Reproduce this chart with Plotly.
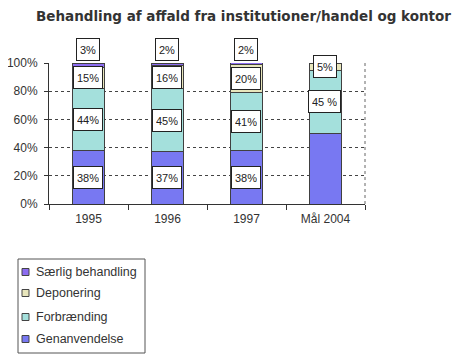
import plotly.graph_objects as go

categories = ["1995", "1996", "1997", "Mål 2004"]
genanvendelse = [38, 37, 38, 50]
forbraending = [44, 45, 41, 45]
deponering = [15, 16, 20, 5]
saerlig = [3, 2, 2, 0]

gen_labels = ["38%", "37%", "38%", ""]
forb_labels = ["44%", "45%", "41%", "45 %"]
dep_labels = ["15%", "16%", "20%", "5%"]
saer_labels = ["3%", "2%", "2%", ""]

series_names = ["Genanvendelse", "Forbrænding", "Deponering", "Særlig behandling"]
colors = {
    "Genanvendelse": "#7878f2",
    "Forbrænding": "#a4e0dc",
    "Deponering": "#e8e6bc",
    "Særlig behandling": "#8c6cf0",
}

FONT = "Arial"

# plot area in figure pixels (page has 8px body offset)
L, R, T, B = 41, 357, 55, 196
W, H = R - L, B - T

fig = go.Figure()
for name, vals in zip(series_names, [genanvendelse, forbraending, deponering, saerlig]):
    fig.add_trace(go.Bar(x=categories, y=vals, name=name,
                         marker=dict(color=colors[name], line=dict(color="#404040", width=1))))

ann = []
def add_labels(bottoms, vals, labels, yshift=0, at_top=False):
    for i, (b, v, t) in enumerate(zip(bottoms, vals, labels)):
        if not t:
            continue
        y = 100 if at_top else b + v / 2
        ann.append(dict(x=i, xref="x", y=y, yref="y", text=t, showarrow=False, yshift=yshift,
                        xshift=-1, height=15,
                        bgcolor="white", bordercolor="#222", borderwidth=1, borderpad=3,
                        font=dict(size=11, color="#222", family=FONT)))

b0 = [0] * 4
b1 = genanvendelse
b2 = [a + b for a, b in zip(genanvendelse, forbraending)]
b3 = [a + b for a, b in zip(b2, deponering)]
add_labels(b0, genanvendelse, gen_labels)
add_labels(b1, forbraending, forb_labels)
add_labels(b2, deponering, dep_labels)
add_labels(b3, saerlig, saer_labels, yshift=14, at_top=True)

# manual legend (positions in figure pixels -> paper coords)
def px(x):
    return (x - L) / W
def py(y):
    return (B - y) / H

shapes = [dict(type="line", xref="paper", yref="paper", x0=1, x1=1, y0=0, y1=1,
               line=dict(color="#666", width=1, dash="dot"))]
shapes.append(dict(type="rect", xref="paper", yref="paper",
                   x0=px(10), x1=px(137), y0=py(251), y1=py(345),
                   line=dict(color="#555", width=1), fillcolor="white", layer="below"))
legend_y = [264, 285, 309, 331]
for name, yy in zip(reversed(series_names), legend_y):
    shapes.append(dict(type="rect", xref="paper", yref="paper",
                       x0=px(14), x1=px(21), y0=py(yy + 3.5), y1=py(yy - 3.5),
                       line=dict(color="#444", width=1), fillcolor=colors[name]))
    ann.append(dict(x=px(26), y=py(yy), xref="paper", yref="paper", text=name,
                    showarrow=False, xanchor="left", yanchor="middle",
                    font=dict(size=12.5, color="#333", family=FONT)))

fig.update_layout(
    width=460, height=362,
    margin=dict(l=L, r=460 - R, t=T, b=362 - B),
    barmode="stack", bargap=0.595,
    paper_bgcolor="white", plot_bgcolor="white",
    font=dict(family=FONT, size=12, color="#333"),
    title=dict(text="<b>Behandling af affald fra institutioner/handel og kontor</b>",
               x=0.512, xanchor="center", y=0.99, yanchor="top",
               font=dict(size=13.5, color="#333", family="DejaVu Sans")),
    showlegend=False,
    annotations=ann,
    shapes=shapes,
    xaxis=dict(type="category", categoryorder="array", categoryarray=categories,
               showline=True, linecolor="#333", linewidth=1, automargin=False,
               ticks="outside", tickson="boundaries", ticklen=5, tickcolor="#333",
               showgrid=False, tickfont=dict(size=12, family=FONT), tickangle=0,
               ticklabelstandoff=4),
    yaxis=dict(range=[0, 100], dtick=20, ticksuffix="%", showline=True, linecolor="#333",
               ticks="outside", ticklen=4, tickcolor="#333", showgrid=True, automargin=False,
               gridcolor="#444", griddash="dot", gridwidth=1, zeroline=False,
               tickfont=dict(size=12, family=FONT), ticklabelstandoff=4),
)

fig.write_html("out.html")
